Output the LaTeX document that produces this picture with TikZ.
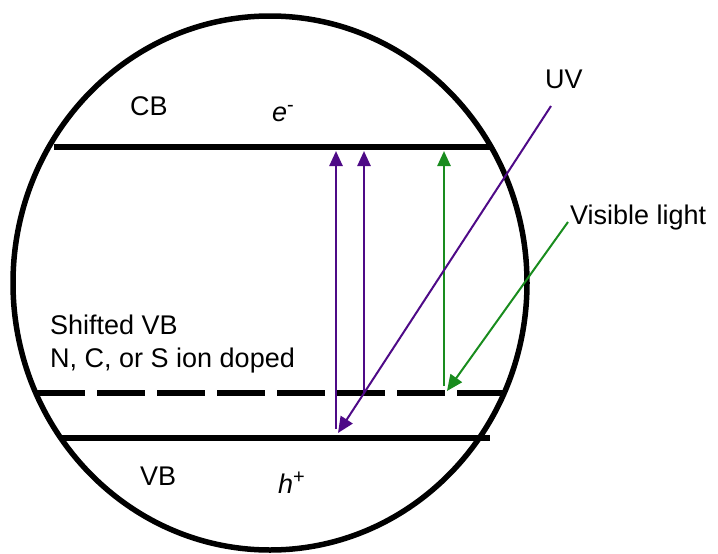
\documentclass[tikz,border=0pt]{standalone}
\usepackage{fontspec}
\setmainfont{Liberation Sans}
\usetikzlibrary{arrows.meta}
\definecolor{uvpurple}{RGB}{78,10,135}
\definecolor{visgreen}{RGB}{25,140,30}
\newcommand{\carrier}[2]{\textit{#1}\raisebox{10pt}{\fontsize{20}{20}\selectfont #2}}

\begin{document}
\begin{tikzpicture}[
    x=1pt, y=-1pt,
    lbl/.style={inner sep=0pt, anchor=base west, font=\fontsize{27}{33}\selectfont},
    band/.style={line width=6pt},
    excite/.style={draw=#1, line width=2.5pt, -{Triangle[length=15pt,width=13pt]}},
    ray/.style={draw=#1, line width=2pt, -{Triangle[length=16pt,width=14pt]}},
]
\useasboundingbox (0,0) rectangle (718,554);

% Particle
\draw[line width=5.5pt] (270,283) ellipse [x radius=257, y radius=267];

% Band edges
\coordinate (cbL) at (54,147);
\coordinate (cbR) at (493,147);
\coordinate (svbL) at (37,393);
\coordinate (svbR) at (506,393);
\coordinate (vbL) at (60,438);
\coordinate (vbR) at (490,438);
\draw[band] (cbL) -- (cbR);
\draw[band, dash pattern=on 48pt off 12pt] (svbL) -- (svbR);
\draw[band] (vbL) -- (vbR);

% Labels
\node[lbl] (cb) at (130,115) {CB};
\node[lbl] (elec) at (272,121) {\carrier{e}{-}};
\node[lbl, anchor=north west, align=left] (shift) at (50,315) {Shifted VB\\N, C, or S ion doped};
\node[lbl] (vb) at (140,485) {VB};
\node[lbl] (hole) at (278,493) {\carrier{h}{+}};
\node[lbl] (uv) at (545,88) {UV};
\node[lbl] (vis) at (570,224) {Visible light};

% Transitions
\coordinate (p1s) at (336,429);
\coordinate (p1e) at (336,151);
\coordinate (p2s) at (364,393);
\coordinate (p2e) at (364,151);
\coordinate (g1s) at (444,386);
\coordinate (g1e) at (444,151);
\draw[excite=uvpurple] (p1s) -- (p1e);
\draw[excite=uvpurple] (p2s) -- (p2e);
\draw[excite=visgreen] (g1s) -- (g1e);

% Incoming light
\coordinate (uvs) at (551,106);
\coordinate (uve) at (338,433);
\coordinate (viss) at (568,222);
\coordinate (vise) at (447,391);
\draw[ray=uvpurple] (uvs) -- (uve);
\draw[ray=visgreen] (viss) -- (vise);
\end{tikzpicture}
\end{document}
